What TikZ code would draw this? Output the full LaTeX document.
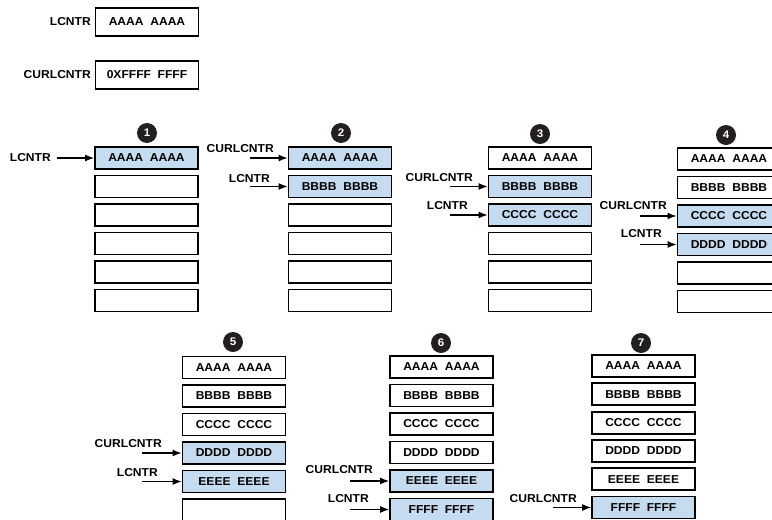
\documentclass[tikz,border=0pt]{standalone}
\usepackage{fontspec}
\setmainfont{Liberation Sans}[FakeStretch=1.05]
\usepackage{tikz}
\usetikzlibrary{arrows.meta, positioning}
\definecolor{cellblue}{RGB}{197,220,240}
\definecolor{dotgray}{RGB}{35,31,32}

\begin{document}
\begin{tikzpicture}[x=1pt, y=-1pt,
  cell/.style={draw, line width=1.8pt, minimum width=103pt, minimum height=22pt, inner sep=0pt, font=\fontsize{11.5}{13}\selectfont\bfseries, fill=#1},
  cell/.default=white,
  ptr/.style={-{Latex[length=9pt,width=7pt]}, line width=1.3pt},
  lbl/.style={font=\fontsize{11.5}{13}\selectfont\bfseries, inner sep=0pt, anchor=base east},
  stepnum/.style={circle, fill=dotgray, minimum size=20pt, inner sep=0pt, text=white, font=\fontsize{11}{12}\selectfont\bfseries}
]
\clip (0,0) rectangle (772,520);

% Register values
\node[lbl, anchor=east] (lctop) at (91,22) {LCNTR};
\node[cell, minimum height=28pt] (lcval) at (147,22) {AAAA~~AAAA};
\node[lbl, anchor=east] (curtop) at (91,75) {CURLCNTR};
\node[cell, minimum height=28pt] (curval) at (147,75) {0XFFFF~~FFFF};

% Step 1
\node[stepnum] (n1) at (147,133) {1};
\node[cell=cellblue] (s1a) at (146.5,158) {AAAA~~AAAA};
\node[cell] (s1b) at (146.5,186.5) {};
\node[cell] (s1c) at (146.5,215) {};
\node[cell] (s1d) at (146.5,243.5) {};
\node[cell] (s1e) at (146.5,272) {};
\node[cell] (s1f) at (146.5,300.5) {};
\node[lbl, anchor=east] (lc1) at (51,158) {LCNTR};
\coordinate (lc1s) at (57,158);
\draw[ptr] (lc1s) -- (s1a);

% Step 2
\node[stepnum] (n2) at (341,133) {2};
\node[cell=cellblue] (s2a) at (340,158) {AAAA~~AAAA};
\node[cell=cellblue] (s2b) at (340,186.5) {BBBB~~BBBB};
\node[cell] (s2c) at (340,215) {};
\node[cell] (s2d) at (340,243.5) {};
\node[cell] (s2e) at (340,272) {};
\node[cell] (s2f) at (340,300.5) {};
\node[lbl] (cur2) at (274,152) {CURLCNTR};
\node[lbl] (lc2) at (270,182) {LCNTR};
\coordinate (cur2s) at (250,158);
\coordinate (lc2s) at (250,186.5);
\draw[ptr] (cur2s) -- (s2a);
\draw[ptr] (lc2s) -- (s2b);

% Step 3
\node[stepnum] (n3) at (540,134) {3};
\node[cell] (s3a) at (540,158) {AAAA~~AAAA};
\node[cell=cellblue] (s3b) at (540,186.5) {BBBB~~BBBB};
\node[cell=cellblue] (s3c) at (540,215) {CCCC~~CCCC};
\node[cell] (s3d) at (540,243.5) {};
\node[cell] (s3e) at (540,272) {};
\node[cell] (s3f) at (540,300.5) {};
\node[lbl] (cur3) at (473,181) {CURLCNTR};
\node[lbl] (lc3) at (468,209) {LCNTR};
\coordinate (cur3s) at (450,186.5);
\coordinate (lc3s) at (450,215);
\draw[ptr] (cur3s) -- (s3b);
\draw[ptr] (lc3s) -- (s3c);

% Step 4
\node[stepnum] (n4) at (726,135) {4};
\node[cell] (s4a) at (729,159) {AAAA~~AAAA};
\node[cell] (s4b) at (729,187.5) {BBBB~~BBBB};
\node[cell=cellblue] (s4c) at (729,216) {CCCC~~CCCC};
\node[cell=cellblue] (s4d) at (729,244.5) {DDDD~~DDDD};
\node[cell] (s4e) at (729,273) {};
\node[cell] (s4f) at (729,301.5) {};
\node[lbl] (cur4) at (667,209) {CURLCNTR};
\node[lbl] (lc4) at (662,237) {LCNTR};
\coordinate (cur4s) at (640,216);
\coordinate (lc4s) at (640,244.5);
\draw[ptr] (cur4s) -- (s4c);
\draw[ptr] (lc4s) -- (s4d);

% Step 5
\node[stepnum] (n5) at (233,342) {5};
\node[cell] (s5a) at (234,367.5) {AAAA~~AAAA};
\node[cell] (s5b) at (234,396) {BBBB~~BBBB};
\node[cell] (s5c) at (234,424.5) {CCCC~~CCCC};
\node[cell=cellblue] (s5d) at (234,453) {DDDD~~DDDD};
\node[cell=cellblue] (s5e) at (234,481.5) {EEEE~~EEEE};
\node[cell] (s5f) at (234,510) {};
\node[lbl] (cur5) at (162,447) {CURLCNTR};
\node[lbl] (lc5) at (158,476) {LCNTR};
\coordinate (cur5s) at (142,453);
\coordinate (lc5s) at (142,481.5);
\draw[ptr] (cur5s) -- (s5d);
\draw[ptr] (lc5s) -- (s5e);

% Step 6
\node[stepnum] (n6) at (441,343) {6};
\node[cell] (s6a) at (441.5,367) {AAAA~~AAAA};
\node[cell] (s6b) at (441.5,395.5) {BBBB~~BBBB};
\node[cell] (s6c) at (441.5,424) {CCCC~~CCCC};
\node[cell] (s6d) at (441.5,452.5) {DDDD~~DDDD};
\node[cell=cellblue] (s6e) at (441.5,481) {EEEE~~EEEE};
\node[cell=cellblue] (s6f) at (441.5,509.5) {FFFF~~FFFF};
\node[lbl] (cur6) at (373,473) {CURLCNTR};
\node[lbl] (lc6) at (369,502) {LCNTR};
\coordinate (cur6s) at (350,481);
\coordinate (lc6s) at (350,509.5);
\draw[ptr] (cur6s) -- (s6e);
\draw[ptr] (lc6s) -- (s6f);

% Step 7
\node[stepnum] (n7) at (641,343) {7};
\node[cell] (s7a) at (643.5,366) {AAAA~~AAAA};
\node[cell] (s7b) at (643.5,394.3) {BBBB~~BBBB};
\node[cell] (s7c) at (643.5,422.6) {CCCC~~CCCC};
\node[cell] (s7d) at (643.5,450.9) {DDDD~~DDDD};
\node[cell] (s7e) at (643.5,479.2) {EEEE~~EEEE};
\node[cell=cellblue] (s7f) at (643.5,507.5) {FFFF~~FFFF};
\node[lbl] (cur7) at (577,502) {CURLCNTR};
\coordinate (cur7s) at (553,507.5);
\draw[ptr] (cur7s) -- (s7f);
\end{tikzpicture}
\end{document}
